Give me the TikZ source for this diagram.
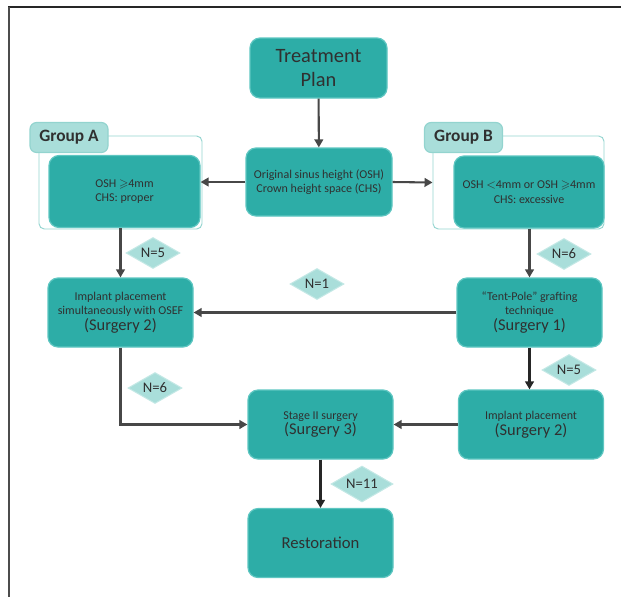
\documentclass[tikz,border=0pt]{standalone}
\usepackage{fontspec}
\setmainfont{Carlito}
\usepackage{amssymb}
\usetikzlibrary{arrows.meta,shapes.geometric}

\definecolor{tealbox}{HTML}{2DADA7}
\definecolor{tealedge}{HTML}{5EC6C1}
\definecolor{tealpale}{HTML}{A9DEDA}
\definecolor{tealline}{HTML}{93D4CF}
\definecolor{txtgray}{HTML}{303030}
\definecolor{arrgray}{HTML}{474747}

\tikzset{every picture/.style={line width=0.75pt}}
\tikzset{
  flowbox/.style={draw=tealedge, fill=tealbox, rounded corners=7.5pt, line width=0.9pt,
    text=txtgray, align=center, inner sep=1pt, font=\fontsize{9}{10.8}\selectfont},
  bigbox/.style={flowbox, minimum width=108.75pt, minimum height=51.75pt},
  grplabel/.style={draw=tealline, fill=tealpale, rounded corners=5pt, line width=0.9pt,
    minimum width=58.5pt, minimum height=22.5pt, inner sep=1pt, text=txtgray,
    font=\fontsize{13}{15}\selectfont\bfseries},
  grpframe/.style={draw=tealline, rounded corners=4pt, line width=0.7pt},
  ndiam/.style={diamond, aspect=1.75, fill=tealpale, draw=tealpale!70!white, inner sep=0.5pt,
    minimum width=40.5pt, minimum height=23.25pt, text=txtgray, font=\fontsize{11}{13}\selectfont},
  arr/.style={draw=arrgray, line width=1.55pt, -{Triangle[length=6pt, width=6.5pt]}}
}
\newcommand{\surgtxt}[1]{{\fontsize{12.3}{14}\selectfont #1}}

\begin{document}
\begin{tikzpicture}[x=0.75pt,y=0.75pt,yscale=-1,xscale=1]
\useasboundingbox (0,0) rectangle (621,597);
%Page frame
\draw [line width=0.8pt, black!85] (8,7) -- (621,7) ;
\draw [line width=0.8pt, black!70] (9,7) -- (9,597) ;

%Group frames
\node (frmA) at (120.5,182.5) [grpframe, minimum width=122.25pt, minimum height=69.75pt] {};
\node (frmB) at (518.5,182.5) [grpframe, minimum width=128.25pt, minimum height=69.75pt] {};

%Boxes
\node (plan) at (318.5,68) [flowbox, minimum width=102.75pt, minimum height=45pt,
  font=\fontsize{15.3}{17.5}\selectfont] {Treatment\\Plan};
\node (osh) at (319,182) [flowbox, minimum width=109.5pt, minimum height=51pt]
  {Original sinus height (OSH)\\Crown height space (CHS)};
\node (oshA) at (124.5,191.5) [flowbox, minimum width=113.25pt, minimum height=54pt]
  {OSH $\geqslant$4mm\\CHS: proper};
\node (oshB) at (529,192) [flowbox, minimum width=112.5pt, minimum height=54pt]
  {OSH $<$4mm or OSH $\geqslant$4mm\\CHS: excessive};
\node (implA) at (120.5,312.5) [bigbox]
  {Implant placement\\simultaneously with OSEF\\[1pt]\surgtxt{(Surgery 2)}};
\node (tent) at (529.5,312.5) [bigbox]
  {``Tent-Pole'' grafting\\technique\\[1pt]\surgtxt{(Surgery 1)}};
\node (implB) at (531,424.5) [bigbox]
  {Implant placement\\[1pt]\surgtxt{(Surgery 2)}};
\node (stage) at (320.5,424.5) [bigbox]
  {Stage II surgery\\[1pt]\surgtxt{(Surgery 3)}};
\node (resto) at (320.5,543) [bigbox, font=\fontsize{12.5}{14}\selectfont] {Restoration};

%Group labels
\node (grpA) at (69,137.5) [grplabel] {Group A};
\node (grpB) at (463.5,137.5) [grplabel] {Group B};

%Connectors
\draw [arr] (plan) -- (osh) ;
\draw [arr] (osh.west) -- (osh.west -| oshA.east) ;
\draw [arr] (osh.east) -- (frmB.west) ;
\draw [arr] (implA.north |- oshA.south) -- (implA.north) ;
\draw [arr] (tent.north |- oshB.south) -- (tent.north) ;
\draw [arr] (tent.west) -- (implA.east) ;
\draw [arr, draw=black!85] (tent.south) -- (tent.south |- implB.north) ;
\draw [arr] (implA.south) |- (stage.west) ;
\draw [arr] (implB.west) -- (stage.east) ;
\draw [arr, draw=black!85] (stage) -- (resto) ;

%Counts
\node (n5a) at (153,253) [ndiam] {N=5};
\node (n6b) at (564,254) [ndiam] {N=6};
\node (n1) at (317,284) [ndiam] {N=1};
\node (n6a) at (155,388) [ndiam] {N=6};
\node (n5b) at (569,370) [ndiam] {N=5};
\node (n11) at (362,484) [ndiam, minimum width=46.5pt, minimum height=27pt] {N=11};
\end{tikzpicture}
\end{document}
